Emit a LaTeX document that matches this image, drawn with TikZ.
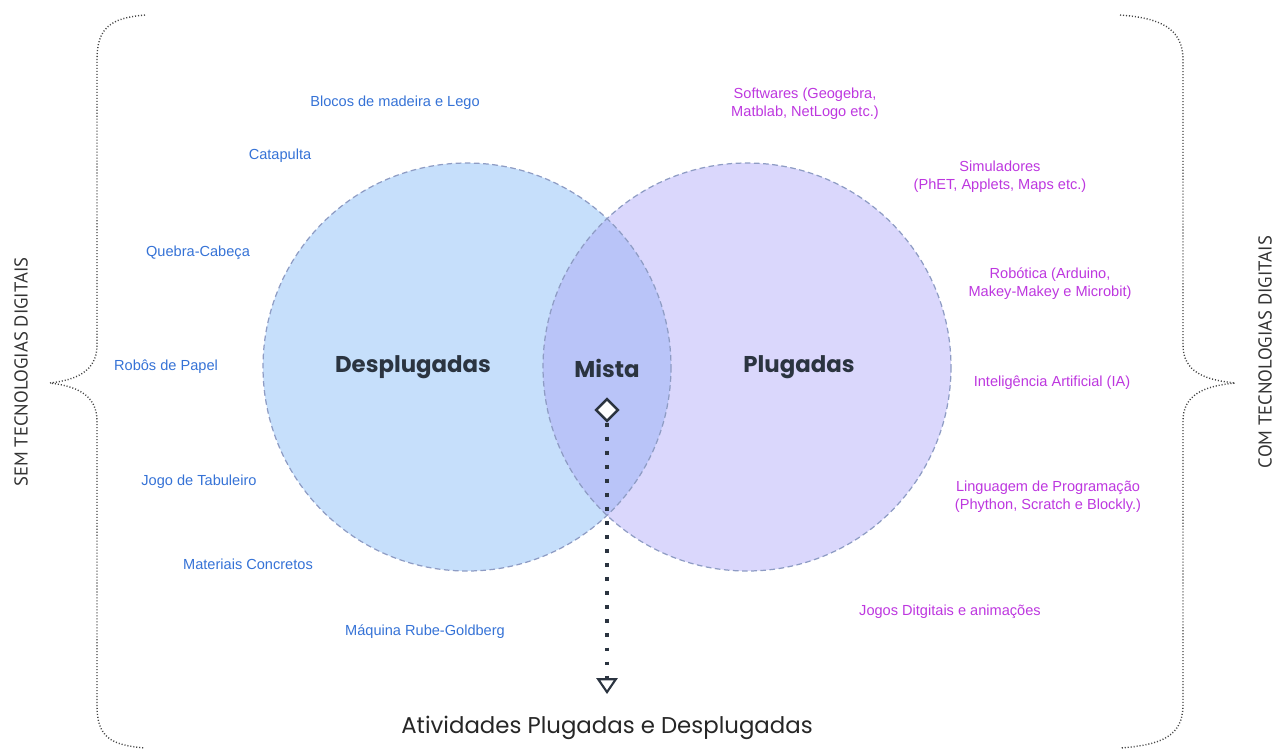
\documentclass[tikz,border=0pt]{standalone}
\usepackage{fontspec}
\setmainfont{Liberation Sans}
\newfontfamily\titlefont{Poppins}
\newfontfamily\sidefont{PT Sans}
\usetikzlibrary{arrows.meta,shapes.geometric}
\definecolor{leftfill}{HTML}{C6DFFB}
\definecolor{rightfill}{HTML}{DAD7FC}
\definecolor{midfill}{HTML}{B9C4F8}
\definecolor{rimcol}{HTML}{8E9CC4}
\definecolor{bluetxt}{HTML}{3572D6}
\definecolor{magtxt}{HTML}{BD37DF}
\definecolor{darktxt}{HTML}{2B3440}
\definecolor{bracecol}{HTML}{444444}
\tikzset{
  lbl/.style={font=\fontsize{8.3}{10.2}\selectfont, align=center, inner sep=0pt},
  leftlbl/.style={lbl, text=bluetxt},
  rightlbl/.style={lbl, text=magtxt},
  settitle/.style={font=\titlefont\bfseries\fontsize{13}{15}\selectfont, text=darktxt, inner sep=0pt},
  sidelbl/.style={font=\sidefont\fontsize{10.6}{12}\selectfont, text=black!80, rotate=90, inner sep=0pt},
  bracestyle/.style={draw=bracecol, line width=0.8pt, dash pattern=on 0.6pt off 1.1pt},
  rim/.style={draw=rimcol, line width=0.7pt, dash pattern=on 3.2pt off 2pt},
}
\begin{document}
\begin{tikzpicture}[x=0.02cm,y=-0.02cm]
\useasboundingbox (0,0) rectangle (1274,751);
% circles
\fill[leftfill] (467,367) circle (204);
\fill[rightfill] (747,367) circle (204);
\begin{scope}
  \clip (467,367) circle (204);
  \fill[midfill] (747,367) circle (204);
\end{scope}
\draw[rim] (467,367) circle (204);
\draw[rim] (747,367) circle (204);

% titles
\node[settitle] (desp) at (413,367) {Desplugadas};
\node[settitle] (mista) at (607,368) {Mista};
\node[settitle] (plug) at (799,367) {Plugadas};

% diamond and arrow
\node[diamond, draw=darktxt, fill=white, line width=1.4pt, minimum width=13pt, minimum height=13pt, inner sep=0pt] (dia) at (607,410) {};
\coordinate (arrend) at (607,694);
\draw[darktxt, line width=2pt, dash pattern=on 2.2pt off 5.8pt, -{Triangle[open, width=12pt, length=9pt, line width=1.2pt]}] (dia.south) -- (arrend);
\node[font=\titlefont\fontsize{13}{15}\selectfont, text=black!85, inner sep=0pt] (bottom) at (607,728) {Atividades Plugadas e Desplugadas};

% left labels
\node[leftlbl] (l1) at (395,103) {Blocos de madeira e Lego};
\node[leftlbl] (l2) at (280,156) {Catapulta};
\node[leftlbl] (l3) at (198,253) {Quebra-Cabeça};
\node[leftlbl] (l4) at (166,367) {Robôs de Papel};
\node[leftlbl] (l5) at (199,482) {Jogo de Tabuleiro};
\node[leftlbl] (l6) at (248,564) {Materiais Concretos};
\node[leftlbl] (l7) at (425,632) {Máquina Rube-Goldberg};

% right labels
\node[rightlbl] (r1) at (805,104) {Softwares (Geogebra,\\Matblab, NetLogo etc.)};
\node[rightlbl] (r2) at (1000,177) {Simuladores\\(PhET, Applets, Maps etc.)};
\node[rightlbl] (r3) at (1050,284) {Robótica (Arduino,\\Makey-Makey e Microbit)};
\node[rightlbl] (r4) at (1052,383) {Inteligência Artificial (IA)};
\node[rightlbl] (r5) at (1048,497) {Linguagem de Programação\\(Phython, Scratch e Blockly.)};
\node[rightlbl] (r6) at (950,612) {Jogos Ditgitais e animações};

% braces
\coordinate (lbtop) at (145,15);
\coordinate (lbtip) at (50,383);
\coordinate (lbbot) at (145,748);
\draw[bracestyle] (lbtop) .. controls (110,18) and (97,28) .. (97,60)
  -- (97,345) .. controls (97,372) and (75,380) .. (lbtip)
  .. controls (75,386) and (97,394) .. (97,421)
  -- (97,705) .. controls (97,737) and (110,745) .. (lbbot);
\coordinate (rbtop) at (1120,15);
\coordinate (rbtip) at (1235,383);
\coordinate (rbbot) at (1120,748);
\draw[bracestyle] (rbtop) .. controls (1160,18) and (1183,28) .. (1183,60)
  -- (1183,345) .. controls (1183,372) and (1205,380) .. (rbtip)
  .. controls (1205,386) and (1183,394) .. (1183,421)
  -- (1183,705) .. controls (1183,737) and (1160,745) .. (rbbot);

% side labels
\node[sidelbl] (sem) at (21,372) {SEM TECNOLOGIAS DIGITAIS};
\node[sidelbl] (com) at (1265,352) {COM TECNOLOGIAS DIGITAIS};
\end{tikzpicture}
\end{document}
